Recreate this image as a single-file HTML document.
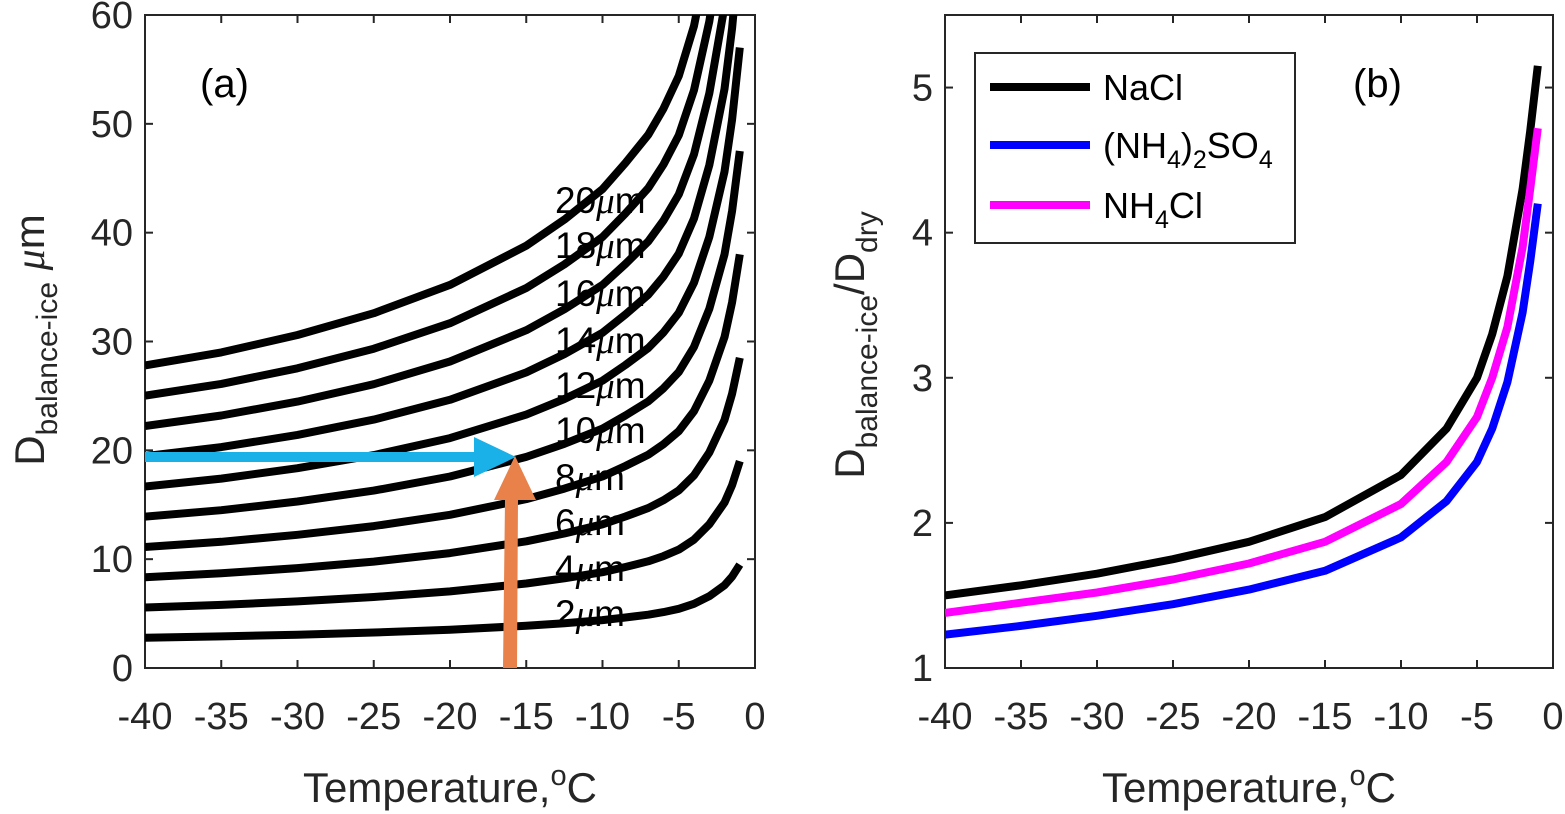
<!DOCTYPE html>
<html><head><meta charset="utf-8"><style>
body{margin:0;background:#fff;}
svg{display:block;font-family:"Liberation Sans",sans-serif;}
</style></head><body>
<svg id="c" width="1565" height="814" viewBox="0 0 1565 814">
<defs>
<clipPath id="ca"><rect x="145" y="15" width="610" height="653"/></clipPath>
<clipPath id="cb"><rect x="945" y="15" width="608" height="653"/></clipPath>
</defs>
<g id="pa"></g>
<g id="pb"></g>
</svg>
<script>
const tempsA=[-40,-35,-30,-25,-20,-15,-12.5,-10,-8.5,-7,-6,-5,-4,-3,-2,-1.5,-1];
const dryDiam=[2,4,6,8,10,12,14,16,18,20];
const ratioA=[1.39,1.45,1.53,1.63,1.76,1.94,2.06,2.2,2.32,2.45,2.57,2.72,2.95,3.3,3.8,4.2,4.75];
const temps=[-40,-35,-30,-25,-20,-15,-10,-7,-5,-4,-3,-2,-1.5,-1];
const nacl=[1.5,1.57,1.65,1.75,1.87,2.04,2.33,2.65,3.0,3.3,3.7,4.3,4.7,5.15];
const nh4cl=[1.38,1.45,1.52,1.61,1.72,1.87,2.13,2.42,2.73,3.0,3.35,3.9,4.3,4.72];
const sulf=[1.23,1.29,1.36,1.44,1.54,1.67,1.9,2.15,2.42,2.65,2.97,3.45,3.8,4.2];
const xTicks=[-40,-35,-30,-25,-20,-15,-10,-5,0];
const yTicksA=[0,10,20,30,40,50,60];
const yTicksB=[1,2,3,4,5];
const NS="http://www.w3.org/2000/svg";
function mk(p,t,a,txt){const e=document.createElementNS(NS,t);for(const k in a)e.setAttribute(k,a[k]);if(txt!==undefined)e.textContent=txt;p.appendChild(e);return e;}
const xa=T=>145+(T+40)*610/40, ya=D=>668-D*653/60;
const xb=T=>945+(T+40)*608/40, yb=r=>668-(r-1)*653/4.5;
function axes(g,x0,x1,xf,yf,yt){
 mk(g,'rect',{x:x0,y:15,width:x1-x0,height:653,fill:'none',stroke:'#262626','stroke-width':2});
 xTicks.forEach(t=>{const x=xf(t);
  mk(g,'line',{x1:x,y1:668,x2:x,y2:660,stroke:'#262626','stroke-width':2});
  mk(g,'line',{x1:x,y1:15,x2:x,y2:23,stroke:'#262626','stroke-width':2});
  const e=mk(g,'text',{x:x,y:729,'text-anchor':'middle','font-size':38,fill:'#262626'},String(t));
  });
 yt.forEach(t=>{const y=yf(t);
  mk(g,'line',{x1:x0,y1:y,x2:x0+8,y2:y,stroke:'#262626','stroke-width':2});
  mk(g,'line',{x1:x1,y1:y,x2:x1-8,y2:y,stroke:'#262626','stroke-width':2});
  const e=mk(g,'text',{x:x0-12,y:y+13,'text-anchor':'end','font-size':38,fill:'#262626'},String(t));
  });
 const xt=mk(g,'text',{x:(x0+x1)/2,y:802,'text-anchor':'middle','font-size':42,fill:'#262626'});
 xt.innerHTML='Temperature,<tspan dy="-17" font-size="29">o</tspan><tspan dy="17">C</tspan>';
 
}
function path(g,xs,ys,xf,yf,col,clip){
 let d='';xs.forEach((t,i)=>{d+=(i?'L':'M')+xf(t).toFixed(1)+','+yf(ys[i]).toFixed(1);});
 return mk(g,'path',{d:d,fill:'none',stroke:col,'stroke-width':8,'stroke-linejoin':'round','clip-path':clip});
}
const pa=document.getElementById('pa');
axes(pa,145,755,xa,ya,yTicksA);
dryDiam.forEach(d=>{
 const p=path(pa,tempsA,ratioA.map(r=>r*d),xa,ya,'#000','url(#ca)');
 
});
const labY=[613,568,522,477,430,385,340,293,245,200];
dryDiam.forEach((d,i)=>{
 const e=mk(pa,'text',{x:555,y:labY[i]+13,'font-size':37,fill:'#000'});
 e.innerHTML=d+'<tspan font-style="italic" font-family="Liberation Serif">μ</tspan>m';
 
});
let e=mk(pa,'text',{x:200,y:97,'font-size':40,fill:'#000'},'(a)');

e=mk(pa,'text',{transform:'translate(44,340) rotate(-90)','text-anchor':'middle','font-size':42,fill:'#262626'});
e.innerHTML='D<tspan dy="13" font-size="30">balance-ice</tspan><tspan dy="-13"> </tspan><tspan font-style="italic" font-family="Liberation Serif">μ</tspan>m';

e=mk(pa,'path',{d:'M145,452 L474,452 L474,437 L516,457 L474,477 L474,462 L145,462 Z',fill:'#1ab0e8'});

e=mk(pa,'path',{d:'M503,668 L505,500 L494,500 L515,456 L536,500 L518,500 L517,668 Z',fill:'#e8824a'});

const pb=document.getElementById('pb');
axes(pb,945,1553,xb,yb,yTicksB);
[[nacl,'#000','nacl'],[sulf,'#0000ff','ammonium-sulfate'],[nh4cl,'#ff00ff','nh4cl']].forEach(s=>{
 const p=path(pb,temps,s[0],xb,yb,s[1],'url(#cb)');
 
});
e=mk(pb,'text',{x:1353,y:97,'font-size':40,fill:'#000'},'(b)');

e=mk(pb,'text',{transform:'translate(864,345) rotate(-90)','text-anchor':'middle','font-size':42,fill:'#262626'});
e.innerHTML='D<tspan dy="13" font-size="30">balance-ice</tspan><tspan dy="-13">/D</tspan><tspan dy="13" font-size="30">dry</tspan>';

const lg=mk(pb,'g',{});

mk(lg,'rect',{x:975,y:53,width:320,height:190,fill:'#fff',stroke:'#262626','stroke-width':2});
const legY=[87,145,205],legC=['#000','#0000ff','#ff00ff'];
const legT=['NaCl','(NH<tspan dy="10" font-size="25">4</tspan><tspan dy="-10">)</tspan><tspan dy="10" font-size="25">2</tspan><tspan dy="-10">SO</tspan><tspan dy="10" font-size="25">4</tspan>','NH<tspan dy="10" font-size="25">4</tspan><tspan dy="-10">Cl</tspan>'];
legY.forEach((y,i)=>{
 const l=mk(lg,'line',{x1:990,y1:y,x2:1090,y2:y,stroke:legC[i],'stroke-width':8});
 
 const t=mk(lg,'text',{x:1103,y:y+13,'font-size':36,fill:'#000'});t.innerHTML=legT[i];
 
});
</script>
</body></html>
